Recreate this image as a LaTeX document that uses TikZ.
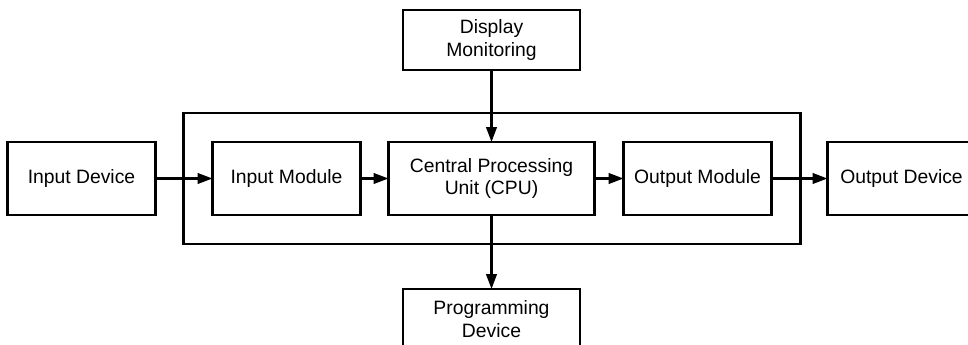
\documentclass[tikz,border=0pt]{standalone}
\usepackage{fontspec}
\setmainfont{Liberation Sans}
\usepackage{tikz}
\usetikzlibrary{arrows.meta,positioning,fit}

\begin{document}
\begin{tikzpicture}[
  node distance=1.14cm,
  block/.style={draw, line width=1.4pt, align=center, inner sep=3pt, outer sep=0pt,
                minimum width=2.96cm, minimum height=1.46cm,
                font=\fontsize{11}{13}\selectfont},
  arrow/.style={line width=1.3pt, -{Triangle[length=8.5pt,width=6pt]}}
]
  \useasboundingbox (0,0) rectangle (19.36,-6.9);

  % main chain
  \node[block] (id) at (1.63,-3.57) {Input Device};
  \node[block, right=of id] (im) {Input Module};
  \node[block, right=0.56cm of im, minimum width=4.12cm] (cpu) {Central Processing\\Unit (CPU)};
  \node[block, right=0.58cm of cpu] (om) {Output Module};
  \node[block, right=1.12cm of om] (od) {Output Device};

  % the controller frame
  \node[draw, line width=1.4pt, inner sep=0.58cm, outer sep=0pt, fit=(im)(cpu)(om)] (plc) {};

  % above and below the cpu
  \node[block, above=1.44cm of cpu, minimum width=3.54cm, minimum height=1.2cm] (dm) {Display\\Monitoring};
  \node[block, below=1.48cm of cpu, minimum width=3.54cm, minimum height=1.2cm] (pd) {Programming\\Device};

  \draw[arrow] (id) -- (im);
  \draw[arrow] (im) -- (cpu);
  \draw[arrow] (cpu) -- (om);
  \draw[arrow] (om) -- (od);
  \draw[arrow] (dm) -- (cpu);
  \draw[arrow] (cpu) -- (pd);
\end{tikzpicture}
\end{document}
